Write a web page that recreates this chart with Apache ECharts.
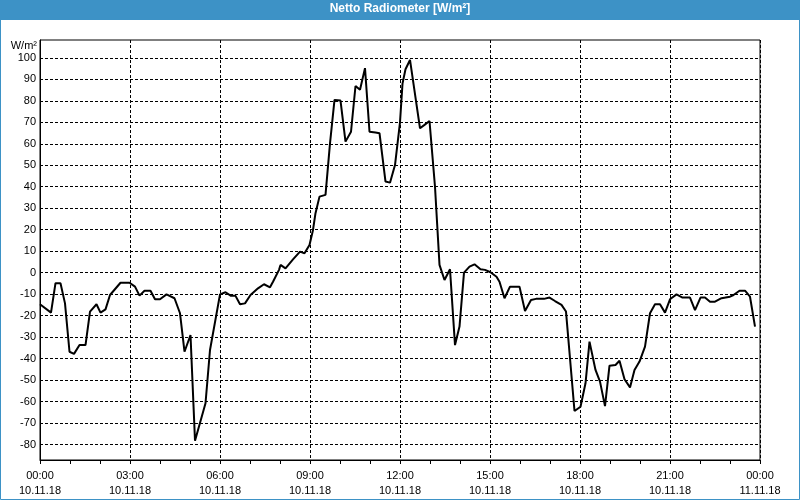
<!DOCTYPE html>
<html><head><meta charset="utf-8">
<script src="https://cdn.jsdelivr.net/npm/echarts@6/dist/echarts.min.js"></script>
<style>html,body{margin:0;padding:0;background:#fff}#c{width:800px;height:500px}</style>
</head><body><div id="c"></div><script>
// minutes since 10.11.18 00:00
const times = [0,22,31,41,50,59,68,79,91,100,113,121,131,140,161,179,190,199,209,221,230,240,253,269,280,289,301,310,331,340,360,371,382,391,400,410,421,436,448,460,466,478,481,491,506,520,529,539,546,551,559,571,580,589,601,611,622,631,640,650,659,671,679,691,700,710,720,725,731,740,760,769,779,790,799,809,820,830,839,848,859,869,881,890,901,913,919,929,940,959,970,982,992,1008,1019,1030,1043,1052,1069,1081,1091,1099,1111,1120,1130,1139,1151,1159,1169,1180,1189,1199,1210,1220,1230,1240,1250,1260,1273,1285,1300,1310,1321,1330,1340,1350,1363,1380,1387,1399,1410,1420,1430];
const values = [-14.7,-18.6,-4.9,-4.9,-14.3,-36.8,-37.8,-33.7,-33.7,-18.1,-14.7,-18.6,-17.1,-10.4,-4.7,-4.7,-6.5,-10.7,-8.4,-8.4,-12.4,-12.4,-10.1,-11.9,-18.9,-36.8,-29.0,-78.2,-60.8,-36.0,-10.1,-9.1,-10.8,-10.8,-14.7,-14.3,-10.4,-7.3,-5.4,-6.8,-4.2,1.3,3.6,2.0,6.2,9.8,9.0,12.9,19.9,27.7,35.4,36.2,60.2,80.4,80.1,61.0,65.6,86.9,85.1,95.2,65.6,65.2,64.9,42.4,41.9,50.1,70.0,88.0,94.7,99.0,67.2,68.8,70.6,40.0,3.6,-3.4,1.6,-33.7,-25.1,0.0,2.8,3.9,1.6,1.3,0.2,-1.9,-4.2,-11.9,-6.5,-6.5,-17.8,-12.7,-12.2,-12.2,-11.6,-13.2,-15.0,-18.1,-64.4,-62.4,-51.5,-32.1,-45.3,-50.7,-62.1,-43.3,-43.0,-41.0,-49.6,-53.4,-45.3,-41.4,-34.4,-18.9,-14.7,-14.7,-18.6,-12.4,-10.1,-11.6,-11.6,-17.4,-11.6,-11.6,-13.5,-13.5,-11.9,-11.2,-10.4,-8.4,-8.4,-11.2,-25.1];
const yTicks = [-80,-70,-60,-50,-40,-30,-20,-10,0,10,20,30,40,50,60,70,80,90,100];
const xTickLabels = ['00:00\n10.11.18','03:00\n10.11.18','06:00\n10.11.18','09:00\n10.11.18','12:00\n10.11.18','15:00\n10.11.18','18:00\n10.11.18','21:00\n10.11.18','00:00\n11.11.18'];
const titleText = 'Netto Radiometer [W/m²]';
const unitText = 'W/m²';

const chart = echarts.init(document.getElementById('c'), null, {renderer:'canvas', width:800, height:500});
const dash = {color:'#000', type:[3,2], width:1};
const font = 'Liberation Sans';
chart.setOption({
  backgroundColor:'#ffffff',
  animation:false,
  title:{text:titleText, left:'center', top:3, padding:0, z:20,
    textStyle:{color:'#ffffff', fontFamily:font, fontSize:12, fontWeight:'bold'}},
  graphic:[
    {type:'rect', z:1, silent:true, shape:{x:0,y:0,width:800,height:20}, style:{fill:'#3d92c6'}},
    {type:'rect', z:1, silent:true, shape:{x:0.5,y:0.5,width:799,height:499}, style:{fill:'none', stroke:'#3d92c6', lineWidth:1}}
  ],
  grid:{left:40,right:40,top:40,bottom:40, show:true, borderColor:'#000', borderWidth:1, backgroundColor:'transparent'},
  xAxis:{type:'value', min:0, max:1440, interval:180,
    axisLine:{show:true, onZero:false, lineStyle:{color:'#000', width:1}},
    axisTick:{show:true, length:4, lineStyle:{color:'#000'}},
    minorTick:{show:true, splitNumber:3, length:4, lineStyle:{color:'#000'}},
    splitLine:{show:true, lineStyle:dash},
    axisLabel:{formatter:v=>xTickLabels[Math.round(v/180)], color:'#000', fontFamily:font, fontSize:11, lineHeight:15, margin:8, showMinLabel:true, showMaxLabel:true}
  },
  yAxis:{type:'value', min:-87.2, max:108.3,
    name:unitText, nameLocation:'end', nameGap:-6,
    nameTextStyle:{color:'#000', fontFamily:font, fontSize:11, align:'right', verticalAlign:'middle', padding:[0,3,0,0]},
    axisLine:{show:true, onZero:false, lineStyle:{color:'#000', width:1}},
    axisTick:{show:false, customValues:yTicks},
    splitLine:{show:true, lineStyle:dash},
    axisLabel:{customValues:yTicks, color:'#000', fontFamily:font, fontSize:11, margin:4}
  },
  series:[{type:'line', data:times.map((t,i)=>[t, values[i]]), showSymbol:false, symbol:'none',
    lineStyle:{color:'#000', width:2}, itemStyle:{color:'#000'}}]
});
</script></body></html>
